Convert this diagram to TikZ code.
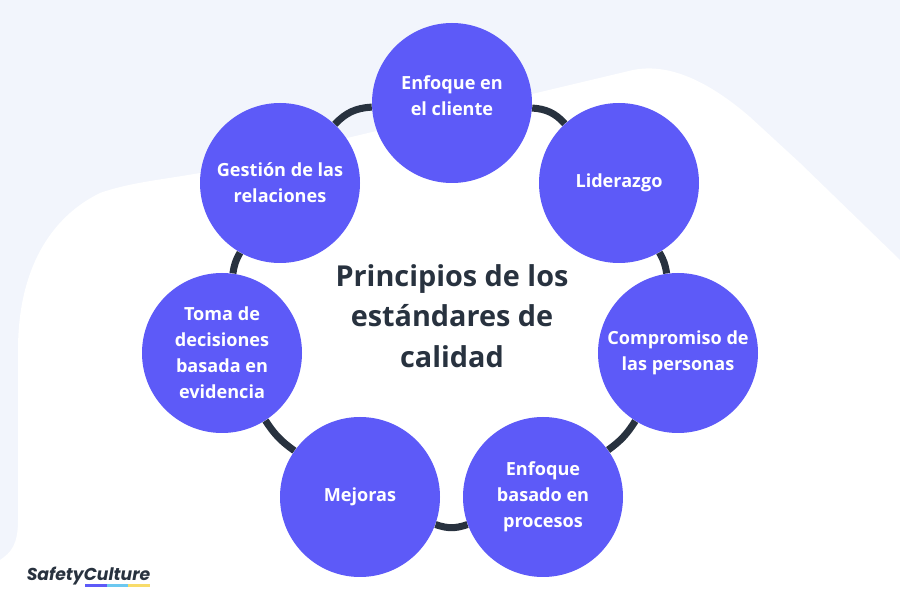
\documentclass[tikz,border=0pt]{standalone}
\usepackage{fontspec}
\usepackage{xcolor}
\setmainfont{Open Sans}
\newfontfamily\logofont{Poppins}
\definecolor{fondo}{HTML}{F2F5FC}
\definecolor{morado}{HTML}{5D5AF8}
\definecolor{oscuro}{HTML}{28323F}
\definecolor{celeste}{HTML}{6CC8F0}
\definecolor{amarillo}{HTML}{F8DC6A}
\begin{document}
\begin{tikzpicture}[line cap=round, line join=round,
		texto/.style={align=center, text=white, font=\fontsize{10.3}{14.8}\selectfont\bfseries},
		principio/.style={circle, fill=morado, minimum size=3.2cm, inner sep=0pt, texto},
		anillo/.style={draw=oscuro, line width=4pt, line cap=butt}]
	\useasboundingbox (0,0) rectangle (18,12);
	\fill[fondo] (0,0) rectangle (18,12);
	\fill[white] (0,0) -- (0,0.8) .. controls (0.22,0.95) and (0.36,1.1) .. (0.36,1.6) -- (0.36,5)
		.. controls (0.36,6.6) and (1,7.65) .. (2,8.14) .. controls (2.6,8.35) and (3.2,8.4) .. (4,8.54)
		-- (12.66,10.6) .. controls (13.4,10.75) and (14.2,10.35) .. (15,9.66)
		-- (16,8.74) -- (18,6.8) -- (18,0) -- cycle;
	\node[principio] (enfoque) at (9.04,9.94) {};
	\node[texto] (enfoquetexto) at (9.04,10.08) {Enfoque en\\el cliente};
	\node[principio] (liderazgo) at (12.38,8.34) {Liderazgo};
	\node[principio] (compromiso) at (13.56,4.94) {Compromiso de\\las personas};
	\node[principio] (procesos) at (10.86,2.06) {Enfoque\\basado en\\procesos};
	\node[principio] (mejoras) at (7.2,2.06) {Mejoras};
	\node[principio] (decisiones) at (4.44,4.94) {Toma de\\decisiones\\basada en\\evidencia};
	\node[principio] (gestion) at (5.6,8.34) {Gestión de las\\relaciones};
	\draw[anillo] (enfoque) to[bend left=22] (liderazgo);
	\draw[anillo] (liderazgo) to[bend left=11] (compromiso);
	\draw[anillo] (compromiso) to[bend left=11] (procesos);
	\draw[anillo] (procesos) to[bend left=20] (mejoras);
	\draw[anillo] (mejoras) to[bend left=11] (decisiones);
	\draw[anillo] (decisiones) to[bend left=11] (gestion);
	\draw[anillo] (gestion) to[bend left=22] (enfoque);
	\node[align=center, text=oscuro, font=\fontsize{16.4}{23.2}\selectfont\bfseries] (titulo) at (9.04,5.68) {Principios de los\\estándares de\\calidad};
	% logo
	\node[text=oscuro, font=\logofont\fontsize{9.8}{12}\selectfont\bfseries\itshape, inner sep=0pt] (logo) at (1.77,0.47) {SafetyCulture};
	\fill[morado] (1.7,0.26) rectangle (2.14,0.32);
	\fill[celeste] (2.14,0.26) rectangle (2.56,0.32);
	\fill[amarillo] (2.56,0.26) rectangle (3,0.32);
\end{tikzpicture}
\end{document}
